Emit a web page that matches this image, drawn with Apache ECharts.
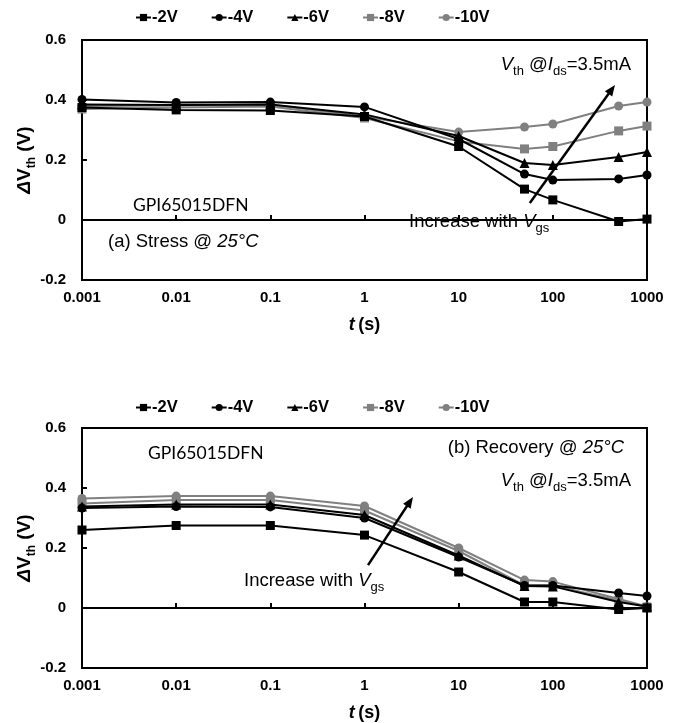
<!DOCTYPE html>
<html>
<head>
<meta charset="utf-8">
<script src="https://cdn.jsdelivr.net/npm/echarts@6/dist/echarts.min.js"></script>
<style>
  html, body { margin: 0; padding: 0; background: #fff; }
  #chart { width: 694px; height: 723px; }
</style>
</head>
<body>
<div id="chart"></div>
<script>
// Measurement times (s)
const times = [0.001, 0.01, 0.1, 1, 10, 50, 100, 500, 1000];
const xTickLabels = ['0.001', '0.01', '0.1', '1', '10', '100', '1000'];

// Gate stress voltages
const seriesNames = ['-2V', '-4V', '-6V', '-8V', '-10V'];

// (a) Stress: ΔVth (V)
const stress2 = [0.375, 0.367, 0.365, 0.345, 0.245, 0.103, 0.067, -0.005, 0.003];
const stress4 = [0.402, 0.392, 0.393, 0.377, 0.270, 0.153, 0.133, 0.137, 0.150];
const stress6 = [0.385, 0.383, 0.385, 0.352, 0.280, 0.190, 0.183, 0.210, 0.227];
const stress8 = [0.370, 0.375, 0.378, 0.340, 0.262, 0.237, 0.245, 0.297, 0.313];
const stress10 = [0.380, 0.382, 0.385, 0.345, 0.293, 0.310, 0.320, 0.380, 0.393];

// (b) Recovery: ΔVth (V)
const recov2 = [0.260, 0.275, 0.275, 0.243, 0.120, 0.020, 0.020, -0.005, 0.000];
const recov4 = [0.333, 0.338, 0.337, 0.300, 0.170, 0.075, 0.075, 0.050, 0.040];
const recov6 = [0.338, 0.345, 0.345, 0.310, 0.175, 0.073, 0.072, 0.020, 0.005];
const recov8 = [0.348, 0.360, 0.360, 0.325, 0.190, 0.075, 0.075, 0.025, 0.003];
const recov10 = [0.365, 0.373, 0.373, 0.340, 0.200, 0.093, 0.088, 0.030, 0.005];

const stressSets = [stress2, stress4, stress6, stress8, stress10];
const recovSets = [recov2, recov4, recov6, recov8, recov10];

const colors = ['#000000', '#000000', '#000000', '#808080', '#808080'];
const symbols = ['rect', 'circle', 'triangle', 'rect', 'circle'];
const symbolSizes = [9, 9, 10, 9, 9];

const FONT = '"Liberation Sans", Arial, sans-serif';
const CAL = 'Lato, "Open Sans", sans-serif';
const ANN = 18.5;

const chart = echarts.init(document.getElementById('chart'), null, { renderer: 'canvas' });

function xAxisFor(gridIndex) {
  return {
    type: 'log', logBase: 10, gridIndex: gridIndex,
    min: 0.001, max: 1000,
    name: '{i|t} {b|(s)}',
    nameLocation: 'middle', nameGap: 36,
    nameTextStyle: {
      rich: {
        i: { fontFamily: FONT, fontSize: 18, fontWeight: 'bold', fontStyle: 'italic', color: '#000' },
        b: { fontFamily: FONT, fontSize: 18, fontWeight: 'bold', color: '#000' }
      }
    },
    axisLine: { show: true, lineStyle: { color: '#000', width: 2 } },
    axisTick: { show: true, inside: true, length: 5, lineStyle: { color: '#000', width: 2 } },
    minorTick: { show: false },
    splitLine: { show: false },
    axisLabel: {
      margin: 10, color: '#000', fontFamily: FONT, fontSize: 15, fontWeight: 'bold',
      formatter: function (v) {
        const k = Math.round(Math.log10(v)) + 3;
        return xTickLabels[k] !== undefined ? xTickLabels[k] : '';
      }
    }
  };
}

function yAxisFor(gridIndex) {
  return {
    type: 'value', gridIndex: gridIndex,
    min: -0.2, max: 0.6, interval: 0.2,
    name: '{d|Δ}{v|V}{s|th}{v| (V)}',
    nameLocation: 'middle', nameRotate: 90, nameGap: 44,
    nameMoveOverlap: false,
    nameTextStyle: {
      rich: {
        d: { fontFamily: FONT, fontSize: 19, fontWeight: 'bold', fontStyle: 'italic', color: '#000', lineHeight: 19, padding: [0, 0, 4, 0], verticalAlign: 'bottom' },
        v: { fontFamily: FONT, fontSize: 19, fontWeight: 'bold', color: '#000', lineHeight: 19, padding: [0, 0, 4, 0], verticalAlign: 'bottom' },
        s: { fontFamily: FONT, fontSize: 12, fontWeight: 'bold', color: '#000', lineHeight: 12, verticalAlign: 'bottom' }
      }
    },
    axisLine: { show: true, lineStyle: { color: '#000', width: 2 } },
    axisTick: { show: true, inside: true, length: 5, lineStyle: { color: '#000', width: 2 } },
    splitLine: { show: false },
    axisLabel: {
      margin: 16, color: '#000', fontFamily: FONT, fontSize: 15, fontWeight: 'bold',
      formatter: function (v) {
        const r = Math.round(v * 10) / 10;
        return r === 0 ? '0' : String(r);
      }
    }
  };
}

function makeSeries(sets, idx) {
  return sets.map(function (vals, k) {
    return {
      name: seriesNames[k], type: 'line',
      xAxisIndex: idx, yAxisIndex: idx,
      data: times.map(function (t, j) { return [t, vals[j]]; }),
      symbol: symbols[k], symbolSize: symbolSizes[k],
      showAllSymbol: true,
      itemStyle: { color: colors[k] },
      lineStyle: { color: colors[k], width: 2 },
      z: 10 - k
    };
  });
}

function legendFor(top) {
  return {
    top: top, left: 130,
    itemWidth: 15, itemHeight: 9, itemGap: 33,
    data: seriesNames,
    textStyle: { fontFamily: FONT, fontSize: 16.5, fontWeight: 'bold', color: '#000', padding: [0, 0, 0, -4] },
    selectedMode: false
  };
}

const sub = {
  n: { fontFamily: FONT, fontSize: ANN, color: '#000', lineHeight: ANN, padding: [0, 0, 4, 0], verticalAlign: 'bottom' },
  i: { fontFamily: FONT, fontSize: ANN, fontStyle: 'italic', color: '#000', lineHeight: ANN, padding: [0, 0, 4, 0], verticalAlign: 'bottom' },
  s: { fontFamily: FONT, fontSize: 13, color: '#000', lineHeight: 13, verticalAlign: 'bottom' }
};

function richText(x, y, text, align) {
  return {
    type: 'text', x: x, y: y, z: 20,
    style: { text: text, rich: sub, align: align || 'left', verticalAlign: 'middle' }
  };
}

function plainText(x, y, str, font, size) {
  return {
    type: 'text', x: x, y: y, z: 20,
    style: { text: str, fontFamily: font, fontSize: size, fill: '#000', verticalAlign: 'middle' }
  };
}

function panelTitle(x, y, lead, align) {
  return {
    type: 'text', x: x, y: y, z: 20,
    style: {
      text: '{n|' + lead + '}{i|25°C}', verticalAlign: 'middle', align: align,
      rich: {
        n: { fontFamily: FONT, fontSize: ANN, color: '#000' },
        i: { fontFamily: FONT, fontSize: ANN, fontStyle: 'italic', color: '#000' }
      }
    }
  };
}

const option = {
  animation: false,
  backgroundColor: '#fff',
  legend: [legendFor(4), legendFor(394)],
  grid: [
    { left: 82, top: 40, width: 565, height: 240, show: true, borderColor: '#000', borderWidth: 2, backgroundColor: 'transparent' },
    { left: 82, top: 428, width: 565, height: 240, show: true, borderColor: '#000', borderWidth: 2, backgroundColor: 'transparent' }
  ],
  xAxis: [xAxisFor(0), xAxisFor(1)],
  yAxis: [yAxisFor(0), yAxisFor(1)],
  series: makeSeries(stressSets, 0).concat(makeSeries(recovSets, 1))
};

chart.setOption(option);

// Annotation arrows, anchored in data coordinates of each panel
const arrows = [
  { grid: 0, from: [57, 0.057], to: [457, 0.45] },
  { grid: 1, from: [1.09, 0.143], to: [3.27, 0.37] }
];

const graphics = [];
arrows.forEach(function (a) {
  const p0 = chart.convertToPixel({ gridIndex: a.grid }, a.from);
  const p1 = chart.convertToPixel({ gridIndex: a.grid }, a.to);
  const dx = p1[0] - p0[0], dy = p1[1] - p0[1];
  const len = Math.sqrt(dx * dx + dy * dy);
  const ux = dx / len, uy = dy / len;
  const hl = 11, hw = 4.5;
  const bx = p1[0] - ux * hl, by = p1[1] - uy * hl;
  graphics.push({
    type: 'line', z: 20,
    shape: { x1: p0[0], y1: p0[1], x2: bx + ux * 2, y2: by + uy * 2 },
    style: { stroke: '#000', lineWidth: 2.5 }
  });
  graphics.push({
    type: 'polygon', z: 20,
    shape: { points: [[p1[0], p1[1]], [bx - uy * hw, by + ux * hw], [bx + uy * hw, by - ux * hw]] },
    style: { fill: '#000' }
  });
});

// Panel (a) labels
graphics.push(richText(631, 69, '{i|V}{s|th}{n| @}{i|I}{s|ds}{n|=3.5mA}', 'right'));
graphics.push(plainText(133, 205, 'GPI65015DFN', CAL, 17.5));
graphics.push(panelTitle(108, 242, '(a) Stress @ ', 'left'));
graphics.push(richText(409, 226, '{n|Increase with }{i|V}{s|gs}', 'left'));

// Panel (b) labels
graphics.push(plainText(148, 453, 'GPI65015DFN', CAL, 17.5));
graphics.push(panelTitle(624, 448, '(b) Recovery @ ', 'right'));
graphics.push(richText(631, 485, '{i|V}{s|th}{n| @}{i|I}{s|ds}{n|=3.5mA}', 'right'));
graphics.push(richText(244, 585, '{n|Increase with }{i|V}{s|gs}', 'left'));

chart.setOption({ graphic: graphics });
</script>
</body>
</html>
